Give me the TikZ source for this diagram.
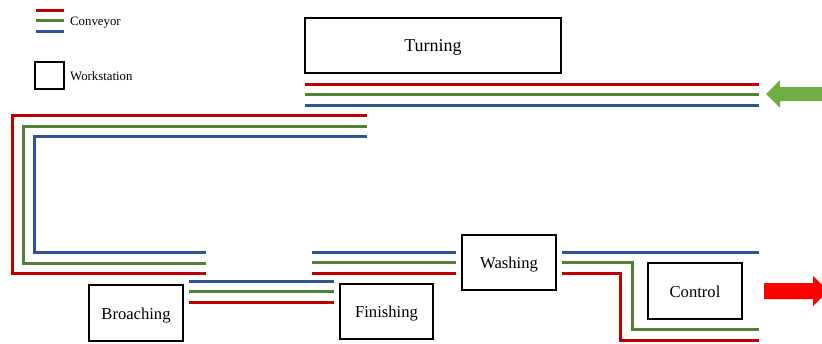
\documentclass[tikz,border=0pt]{standalone}
\usepackage{fontspec}
\setmainfont{Liberation Serif}
\definecolor{cred}{HTML}{C00000}
\definecolor{cgreen}{HTML}{548235}
\definecolor{cblue}{HTML}{2F5597}
\definecolor{agreen}{HTML}{70AD47}
\definecolor{ared}{HTML}{FF0000}
\tikzset{
  station/.style={draw=black, line width=2pt, rectangle, inner sep=0pt, text height=12pt, text depth=0pt, font=\fontsize{16.6}{20}\selectfont},
  legtext/.style={anchor=base west, inner sep=0pt, font=\fontsize{12.8}{15}\selectfont},
  redc/.style={draw=cred, line width=3pt},
  greenc/.style={draw=cgreen, line width=3pt},
  bluec/.style={draw=cblue, line width=3pt},
}
\begin{document}
\begin{tikzpicture}[x=1pt,y=-1pt]
\useasboundingbox (0,0) rectangle (822,343);
% legend
\draw[redc] (36,10) -- (64,10);
\draw[greenc] (36,20.5) -- (64,20.5);
\draw[bluec] (36,31) -- (64,31);
\node[legtext] (legconv) at (70,25) {Conveyor};
\node[draw=black, line width=2pt, minimum width=29pt, minimum height=27pt, inner sep=0pt] (legbox) at (49.5,75.5) {};
\node[legtext] (legws) at (70,80) {Workstation};
% stations
\node[station, minimum width=256pt, minimum height=55pt, text height=11pt, font=\fontsize{18}{22}\selectfont] (turning) at (433,45.5) {Turning};
\node[station, minimum width=94pt, minimum height=56pt] (broaching) at (136,313) {Broaching};
\node[station, minimum width=93pt, minimum height=55pt] (finishing) at (386.5,311.5) {Finishing};
\node[station, minimum width=94pt, minimum height=55pt] (washing) at (509,262.5) {Washing};
\node[station, minimum width=94pt, minimum height=56pt] (control) at (695,291) {Control};
% top conveyor
\draw[redc] (305,84) -- (759,84);
\draw[greenc] (305,94.5) -- (759,94.5);
\draw[bluec] (305,105) -- (759,105);
% left loop
\draw[redc] (367,115) -- (12,115) -- (12,273.5) -- (206,273.5);
\draw[greenc] (367,126) -- (23,126) -- (23,263) -- (206,263);
\draw[bluec] (367,136.5) -- (34,136.5) -- (34,252) -- (206,252);
% middle conveyor
\draw[bluec] (189,281) -- (334,281);
\draw[greenc] (189,291) -- (334,291);
\draw[redc] (189,302) -- (334,302);
% before washing
\draw[bluec] (312,252) -- (456,252);
\draw[greenc] (312,262.5) -- (456,262.5);
\draw[redc] (312,273) -- (456,273);
% after washing
\draw[bluec] (562,252) -- (759,252);
\draw[greenc] (562,262.5) -- (632,262.5) -- (632,329) -- (759,329);
\draw[redc] (562,273) -- (620,273) -- (620,340) -- (759,340);
% arrows
\fill[agreen] (766,94) -- (780,80) -- (780,87) -- (830,87) -- (830,101) -- (780,101) -- (780,108) -- cycle;
\fill[ared] (764,283) -- (813,283) -- (813,276) -- (828,291) -- (813,306) -- (813,299) -- (764,299) -- cycle;
\end{tikzpicture}
\end{document}
